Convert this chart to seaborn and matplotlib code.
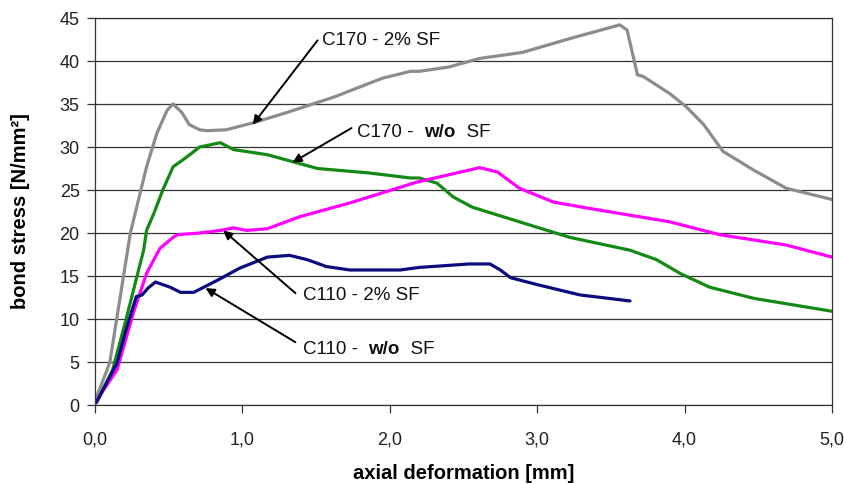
import numpy as np
import pandas as pd
import matplotlib
matplotlib.use("Agg")
import matplotlib.pyplot as plt
import seaborn as sns

# ── Curves (axial deformation [mm], bond stress [N/mm²]) ──
c170_sf_x = [0.0, 0.01, 0.10, 0.24, 0.35, 0.42, 0.49, 0.53, 0.59, 0.64, 0.71, 0.76, 0.89,
             1.07, 1.30, 1.62, 1.95, 2.14, 2.20, 2.40, 2.61, 2.90, 3.22, 3.56, 3.61,
             3.68, 3.72, 3.90, 4.01, 4.13, 4.26, 4.47, 4.69, 5.00]
c170_sf_y = [0.5, 0.9, 4.9, 20.0, 27.7, 31.6, 34.3, 35.0, 34.0, 32.6, 32.0, 31.9, 32.0,
             32.8, 34.0, 35.8, 38.0, 38.8, 38.8, 39.3, 40.3, 41.0, 42.6, 44.2, 43.6,
             38.4, 38.2, 36.2, 34.7, 32.6, 29.5, 27.3, 25.2, 23.9]

c170_wo_x = [0.0, 0.01, 0.12, 0.21, 0.33, 0.35, 0.40, 0.46, 0.53, 0.62, 0.71, 0.85, 0.94,
             1.17, 1.34, 1.51, 1.85, 2.14, 2.20, 2.32, 2.43, 2.56, 2.88, 3.22, 3.63,
             3.81, 3.97, 4.17, 4.47, 5.00]
c170_wo_y = [0.3, 0.3, 4.1, 9.9, 18.0, 20.3, 22.3, 25.0, 27.7, 28.8, 30.0, 30.5, 29.7,
             29.1, 28.3, 27.5, 27.0, 26.4, 26.4, 25.8, 24.2, 23.0, 21.3, 19.5, 18.0,
             16.9, 15.3, 13.7, 12.4, 10.9]

c110_sf_x = [0.0, 0.01, 0.15, 0.26, 0.35, 0.44, 0.53, 0.56, 0.71, 0.85, 0.94, 1.03, 1.17,
             1.39, 1.73, 2.18, 2.61, 2.73, 2.88, 3.11, 3.34, 3.90, 4.24, 4.69, 5.00]
c110_sf_y = [0.3, 0.5, 4.1, 10.7, 15.3, 18.2, 19.5, 19.8, 20.0, 20.3, 20.6, 20.3, 20.5,
             21.9, 23.5, 25.9, 27.6, 27.1, 25.2, 23.6, 22.9, 21.3, 19.8, 18.6, 17.2]

c110_wo_x = [0.0, 0.01, 0.15, 0.21, 0.28, 0.32, 0.36, 0.41, 0.51, 0.58, 0.67, 0.83, 0.98,
             1.17, 1.32, 1.44, 1.57, 1.73, 2.07, 2.20, 2.54, 2.68, 2.75, 2.82, 3.00,
             3.29, 3.63]
c110_wo_y = [0.2, 0.3, 4.9, 8.7, 12.6, 12.8, 13.6, 14.3, 13.7, 13.1, 13.1, 14.5, 15.9,
             17.2, 17.4, 16.9, 16.1, 15.7, 15.7, 16.0, 16.4, 16.4, 15.7, 14.8, 14.0,
             12.8, 12.1]

series_names = ["C170 - 2% SF", "C170 - w/o SF", "C110 - 2% SF", "C110 - w/o SF"]
series_colors = ["#8c8c8c", "#138a13", "#ff00ff", "#0c0c80"]

x_ticks = [0, 1, 2, 3, 4, 5]
x_tick_labels = ["0,0", "1,0", "2,0", "3,0", "4,0", "5,0"]
y_ticks = list(range(0, 50, 5))

frames = []
for name, xs, ys in zip(series_names,
                        [c170_sf_x, c170_wo_x, c110_sf_x, c110_wo_x],
                        [c170_sf_y, c170_wo_y, c110_sf_y, c110_wo_y]):
    frames.append(pd.DataFrame({"x": xs, "y": ys, "series": name}))
df = pd.concat(frames, ignore_index=True)

# ── Figure ───────────────────────────────────────────────────────────────────
sns.set_style("white")
plt.rcParams["font.family"] = ["Liberation Sans", "DejaVu Sans"]

fig = plt.figure(figsize=(8.45, 4.84), dpi=100)
ax = fig.add_axes([0.1124, 0.1632, 0.8722, 0.7996])

sns.lineplot(data=df, x="x", y="y", hue="series", hue_order=series_names,
             palette=series_colors, sort=False, estimator=None,
             linewidth=2.3, legend=False, ax=ax)

ax.set_xlim(0, 5)
ax.set_ylim(0, 45)
ax.set_xticks(x_ticks)
ax.set_xticklabels(x_tick_labels)
ax.set_yticks(y_ticks)
ax.tick_params(axis="both", labelsize=13, labelcolor="#222222")
ax.tick_params(axis="y", length=6, width=0.9, color="#333333", left=True, pad=5)
ax.tick_params(axis="x", length=6, width=0.9, color="#333333", bottom=True, pad=13)

ax.yaxis.grid(True, color="#333333", linewidth=0.9)
ax.xaxis.grid(False)
ax.set_axisbelow(True)
for side in ["left", "bottom", "right", "top"]:
    ax.spines[side].set_visible(True)
    ax.spines[side].set_color("#333333")
    ax.spines[side].set_linewidth(0.9)

ax.set_xlabel("axial deformation [mm]", fontsize=14.5, fontweight="bold",
              labelpad=11, color="black")
ax.set_ylabel("bond stress [N/mm²]", fontsize=14.5, fontweight="bold",
              labelpad=21, color="black")

# ── Annotations with arrows ──────────────────────────────────────────────────
arrow = dict(arrowstyle="-|>", color="black", lw=1.4, mutation_scale=13,
             shrinkA=0, shrinkB=0)


def label(head, tail, pos, parts):
    """Arrow from tail to head, plus text made of (string, weight) parts."""
    ax.annotate("", xy=head, xytext=tail, arrowprops=arrow)
    prev = ax.text(pos[0], pos[1], parts[0][0], fontsize=13.5,
                   fontweight=parts[0][1], ha="left", va="center", color="#111111")
    for text, weight in parts[1:]:
        prev = ax.annotate(text, xy=(1, 0), xycoords=prev, fontsize=13.5,
                           fontweight=weight, ha="left", va="bottom", color="#111111")


label((1.07, 32.6), (1.51, 42.4), (1.54, 42.4), [("C170 - 2% SF", "normal")])
label((1.34, 28.2), (1.74, 32.2), (1.78, 31.7),
      [("C170 -  ", "normal"), ("w/o", "bold"), ("  SF", "normal")])
label((0.87, 20.3), (1.36, 13.0), (1.41, 12.7), [("C110 - 2% SF", "normal")])
label((0.75, 13.6), (1.36, 7.3), (1.41, 6.4),
      [("C110 -  ", "normal"), ("w/o", "bold"), ("  SF", "normal")])

fig.savefig("out.png", dpi=100)
